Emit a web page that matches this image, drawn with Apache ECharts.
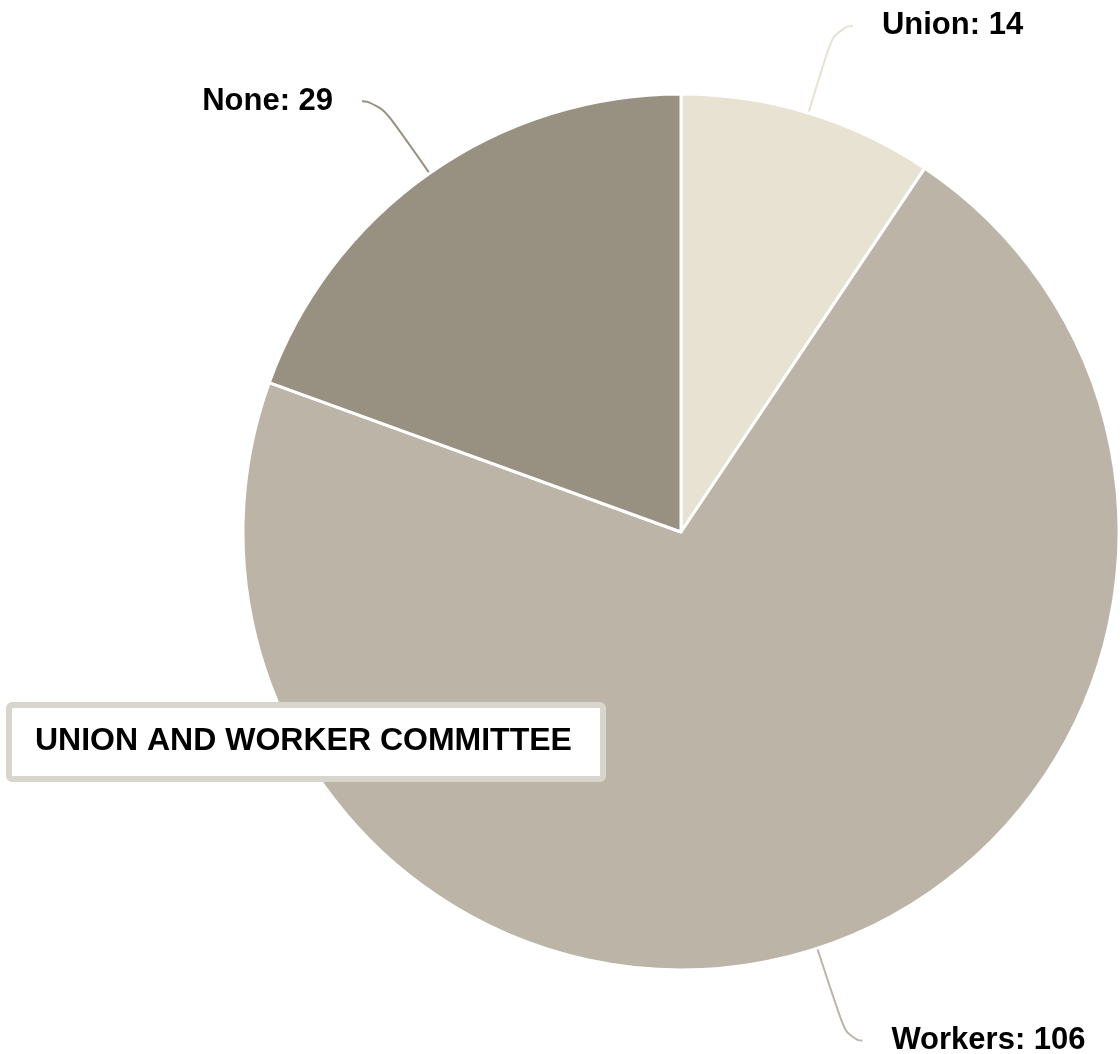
<!DOCTYPE html>
<html>
<head>
<meta charset="utf-8">
<script src="https://cdn.jsdelivr.net/npm/echarts@6/dist/echarts.min.js"></script>
<style>
html,body{margin:0;padding:0;background:#fff;}
#chart{width:1120px;height:1054px;}
</style>
</head>
<body>
<div id="chart"></div>
<script>
const categories = ['Union', 'Workers', 'None'];
const values = [14, 106, 29];
const colors = ['#e8e2d2', '#bcb5a7', '#989080'];
const lineLen1 = [91, 97, 88];
const lineLen2 = [18, 15, 17];
const titleText = 'UNION AND WORKER COMMITTEE';

const chart = echarts.init(document.getElementById('chart'));
const data = categories.map((c, i) => ({
  name: c,
  value: values[i],
  itemStyle: { color: colors[i] },
  labelLine: { length: lineLen1[i], length2: lineLen2[i] }
}));

chart.setOption({
  animation: false,
  backgroundColor: '#ffffff',
  series: [{
    type: 'pie',
    center: [681, 532],
    radius: [0, 438],
    startAngle: 90,
    clockwise: true,
    avoidLabelOverlap: false,
    data: data,
    itemStyle: { borderColor: '#ffffff', borderWidth: 3 },
    label: {
      show: true,
      formatter: '{b}: {c}',
      fontFamily: 'Liberation Sans, Arial, sans-serif',
      fontWeight: 'bold',
      fontSize: 31,
      color: '#000000',
      distanceToLabelLine: 29
    },
    labelLine: { show: true, smooth: 0.7, lineStyle: { width: 2 } }
  }],
  graphic: [
    {
      type: 'rect',
      z: 100,
      shape: { x: 9, y: 705, width: 594, height: 74, r: 3 },
      style: { fill: '#ffffff', stroke: '#d8d5cc', lineWidth: 6 }
    },
    {
      type: 'text',
      z: 101,
      x: 35, y: 741,
      style: {
        text: titleText,
        font: 'bold 32px "Liberation Sans", Arial, sans-serif',
        fill: '#000000',
        verticalAlign: 'middle',
        align: 'left'
      }
    }
  ]
});
</script>
</body>
</html>
